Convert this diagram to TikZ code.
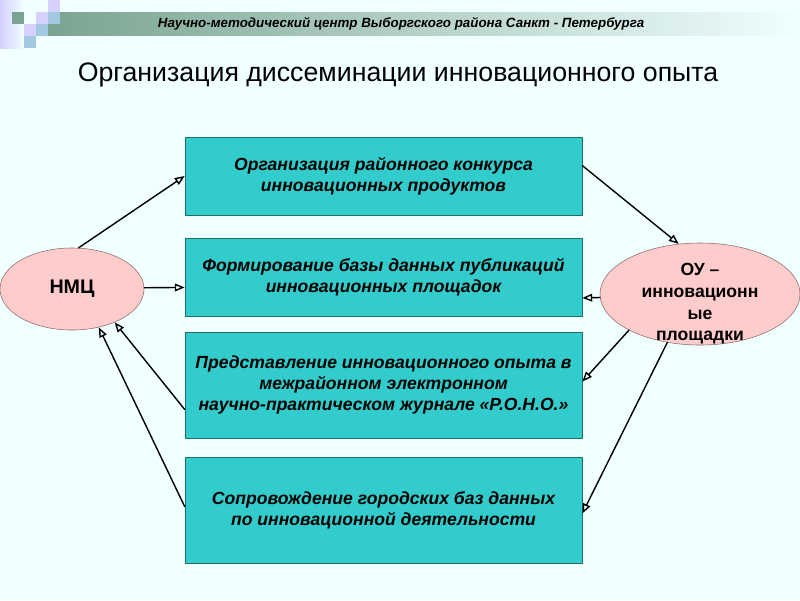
\documentclass[tikz,border=0pt]{standalone}
\usepackage{fontspec}
\setmainfont{Liberation Sans}
\usetikzlibrary{shapes.geometric,arrows.meta}

\definecolor{bgcol}{RGB}{240,255,255}
\definecolor{barcol}{RGB}{122,164,145}
\definecolor{boxfill}{RGB}{51,204,204}
\definecolor{boxline}{RGB}{30,110,110}
\definecolor{ovalfill}{RGB}{255,204,204}
\definecolor{ovalline}{RGB}{140,110,110}
\definecolor{lilac}{RGB}{214,208,255}
\definecolor{paleblue}{RGB}{160,200,224}

\begin{document}
\begin{tikzpicture}[x=0.025cm, y=-0.025cm, line cap=round, line join=round,
  box/.style={draw=boxline, fill=boxfill, minimum width=9.925cm, inner sep=0pt, align=center,
    font=\bfseries\itshape\fontsize{12.5}{15.2}\selectfont},
  oval/.style={ellipse, draw=ovalline, fill=ovalfill, inner sep=0pt},
  link/.style={line width=1pt, -{Triangle[open,length=7pt,width=5.5pt]}}]

% page
\useasboundingbox[fill=bgcol] (0,0) rectangle (800,600);

% header bar and squares
\shade[left color=lilac, right color=bgcol] (0,0) rectangle (24,48);
\shade[left color=barcol, right color=bgcol] (48,12) rectangle (800,35);
\foreach \x/\y/\c in {48/0/lilac, 12/12/barcol, 36/12/lilac, 48/12/paleblue,
                      24/24/lilac, 36/24/paleblue, 24/36/paleblue}
  \fill[\c] (\x,\y) rectangle ++(12,12);
\node[anchor=west, font=\bfseries\itshape\fontsize{9.5}{11}\selectfont] (head) at (153,24)
  {Научно-методический центр Выборгского района Санкт - Петербурга};

% title
\node[font=\fontsize{19}{23}\selectfont] (title) at (398,75) {Организация диссеминации инновационного опыта};

% boxes
\node[box, minimum height=1.95cm] (b1) at (383.5,176) {Организация районного конкурса\\инновационных продуктов};
\node[box, minimum height=1.95cm] (b2) at (383.5,277) {Формирование базы данных публикаций\\инновационных площадок};
\node[box, minimum height=2.65cm] (b3) at (383.5,385) {Представление инновационного опыта в\\межрайонном электронном\\научно-практическом журнале «Р.О.Н.О.»};
\node[box, minimum height=2.65cm] (b4) at (383.5,510) {Сопровождение городских баз данных\\по инновационной деятельности};

% ovals
\node[oval, minimum width=3.6cm, minimum height=2.05cm, font=\bfseries\fontsize{14}{16}\selectfont] (nmc) at (72,289) {НМЦ};
\node[oval, minimum width=5cm, minimum height=2.55cm] (ou) at (700,294) {};
\node[font=\bfseries\fontsize{12.5}{15.4}\selectfont, align=center] (outext) at (700,304) {ОУ --\\инновационн\\ые\\площадки};

% arrows
\draw[link] (nmc.81) -- (b1.west);
\draw[link] (nmc.1) -- (b2.183);
\draw[link] (b3.187) -- (nmc.-38);
\draw[link] (b4.179) -- (nmc.-55);
\draw[link] (b1.3) -- (ou.113);
\draw[link] (ou.182) -- (b2.354);
\draw[link] (ou.207) -- (b3.1);
\draw[link] (ou.236) -- (b4.359);

\end{tikzpicture}
\end{document}
